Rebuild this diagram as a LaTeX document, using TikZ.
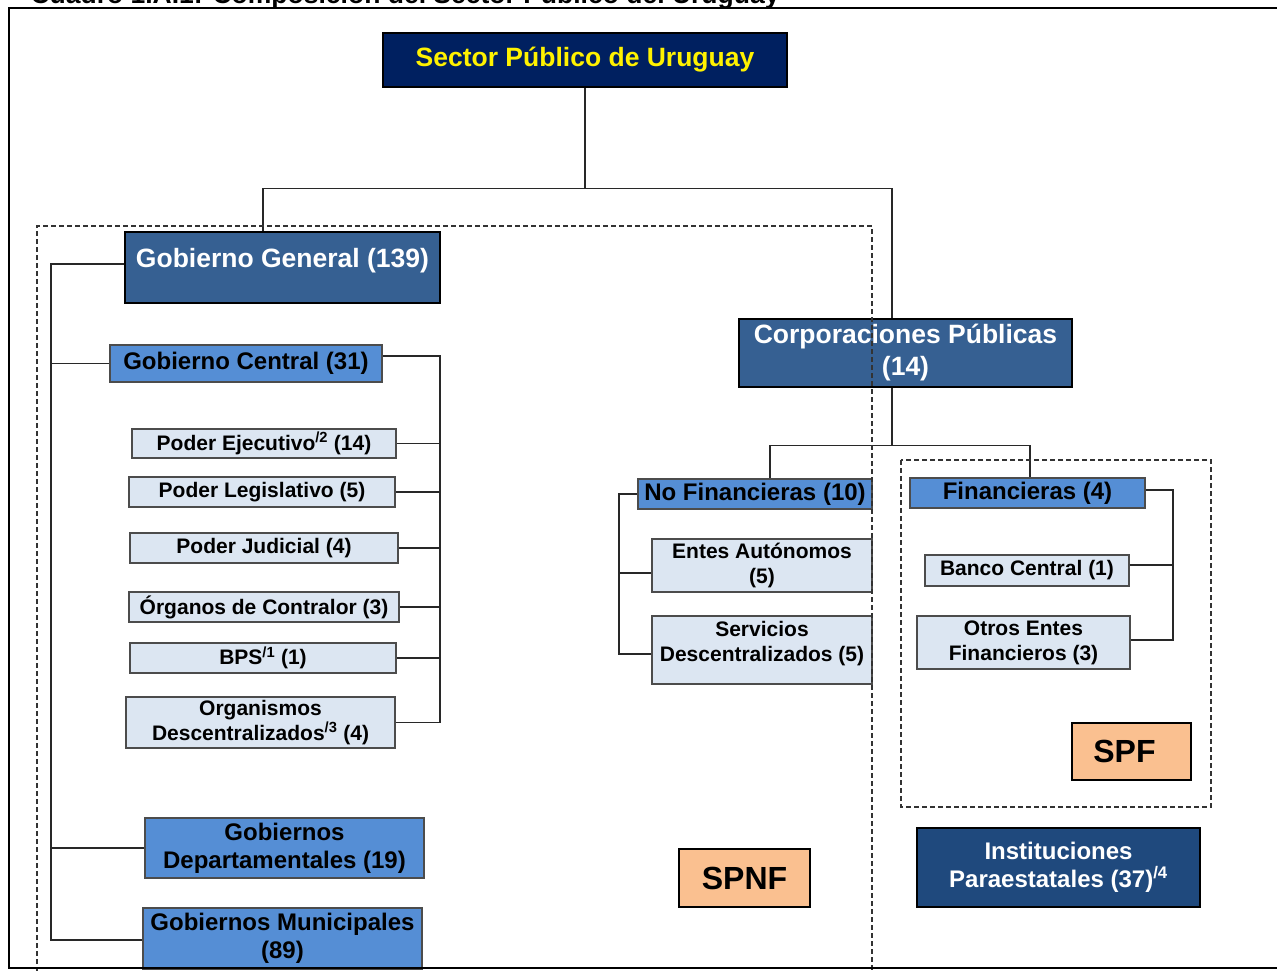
\documentclass[tikz,border=0pt]{standalone}
\usepackage{fontspec}
\setmainfont{Liberation Sans}
\usepackage{xcolor}
\usetikzlibrary{positioning}
\definecolor{navyspu}{RGB}{0,32,96}
\definecolor{steelgg}{RGB}{54,96,146}
\definecolor{bluemid}{RGB}{85,142,213}
\definecolor{bluelite}{RGB}{220,230,242}
\definecolor{peach}{RGB}{250,192,144}
\definecolor{navypara}{RGB}{31,73,125}
\definecolor{linegray}{RGB}{40,40,40}
\newcommand\szbig{\fontsize{26.5}{32}\selectfont\bfseries}
\newcommand\szmid{\fontsize{24}{28}\selectfont\bfseries}
\newcommand\szsml{\fontsize{21}{25}\selectfont\bfseries}
\newcommand\sztag{\fontsize{32}{36}\selectfont\bfseries}
\tikzset{
  box/.style={rectangle,inner sep=0pt,align=center},
  bigbox/.style={box,draw=black,line width=2.5pt},
  thinbox/.style={box,draw=black!70,line width=1.2pt},
  conn/.style={draw=linegray,line width=1.4pt},
  sector/.style={draw=black!80,line width=1.2pt,dash pattern=on 5pt off 3pt}
}
\begin{document}
\begin{tikzpicture}[x=1pt,y=-1pt]
\useasboundingbox (0,0) rectangle (1277,970);
\clip (0,0) rectangle (1277,970);
\node[anchor=base west,font=\szbig] (title) at (27,3) {Cuadro 1.A.1: Composición del Sector Público del Uruguay};
% cabecera
\node[bigbox,fill=navyspu,text=yellow,font=\szbig,minimum width=404,minimum height=54] (spu) at (585,60) {Sector Público de Uruguay};
\node[bigbox,fill=steelgg,text=white,font=\szbig,minimum width=315,minimum height=71,text height=19pt,text depth=19pt] (gg) at (282.5,267.5) {Gobierno General (139)};
\node[bigbox,fill=steelgg,text=white,font=\szbig,minimum width=333,minimum height=68] (cp) at (905.5,353) {Corporaciones Públicas\\(14)};
% gobierno general
\node[thinbox,fill=bluemid,font=\szmid,minimum width=272,minimum height=37] (gc) at (246,363.5) {Gobierno Central (31)};
\node[thinbox,fill=bluelite,font=\szsml,minimum width=264,minimum height=29] (pe) at (264,443.5) {Poder Ejecutivo\textsuperscript{/2} (14)};
\node[thinbox,fill=bluelite,font=\szsml,minimum width=266,minimum height=30] (pl) at (262,492) {Poder Legislativo (5)};
\node[thinbox,fill=bluelite,font=\szsml,minimum width=268,minimum height=30] (pj) at (264,548) {Poder Judicial (4)};
\node[thinbox,fill=bluelite,font=\szsml,minimum width=270,minimum height=30] (oc) at (264,607) {Órganos de Contralor (3)};
\node[thinbox,fill=bluelite,font=\szsml,minimum width=266,minimum height=30] (bps) at (263,658) {BPS\textsuperscript{/1} (1)};
\node[thinbox,fill=bluelite,font=\szsml,minimum width=269,minimum height=51] (od) at (260.5,722.5) {Organismos\\Descentralizados\textsuperscript{/3} (4)};
\node[thinbox,fill=bluemid,font=\szmid,minimum width=279,minimum height=60] (gd) at (284.5,848) {Gobiernos\\Departamentales (19)};
\node[thinbox,fill=bluemid,font=\szmid,minimum width=279,minimum height=61] (gm) at (282.5,938.5) {Gobiernos Municipales\\(89)};
% corporaciones
\node[thinbox,fill=bluemid,font=\szmid,minimum width=234,minimum height=30] (nf) at (755,494) {No Financieras (10)};
\node[thinbox,fill=bluemid,font=\szmid,minimum width=235,minimum height=30] (fin) at (1027.5,493) {Financieras (4)};
\node[thinbox,fill=bluelite,font=\szsml,minimum width=220,minimum height=53] (ea) at (762,565.5) {Entes Autónomos\\(5)};
\node[thinbox,fill=bluelite,font=\szsml,minimum width=220,minimum height=68,text height=42pt,text depth=19pt] (sd) at (762,650) {Servicios\\Descentralizados (5)};
\node[thinbox,fill=bluelite,font=\szsml,minimum width=204,minimum height=31] (bc) at (1027,570.5) {Banco Central (1)};
\node[thinbox,fill=bluelite,font=\szsml,minimum width=213,minimum height=53] (oef) at (1023.5,642.5) {Otros Entes\\Financieros (3)};
\node[bigbox,line width=2pt,fill=peach,font=\sztag,minimum width=119,minimum height=57] (spf) at (1131.5,751.5) {SPF\hspace*{14pt}};
\node[bigbox,line width=2pt,fill=peach,font=\sztag,minimum width=131,minimum height=58] (spnf) at (744.5,878) {SPNF};
\node[bigbox,line width=2pt,fill=navypara,text=white,font=\szmid,minimum width=283,minimum height=79] (ip) at (1058.5,867.5) {Instituciones\\Paraestatales (37)\textsuperscript{/4}};
% conectores
\draw[conn] (spu.south) -- ++(0,100) coordinate (fork);
\draw[conn] ([xshift=-19.5]gg.north) |- (fork) -| ([xshift=-13.5]cp.north);
\coordinate (ggbus) at (51,264);
\draw[conn] (gg.west |- ggbus) -- (ggbus) |- ([yshift=-1.5]gm.west);
\draw[conn] (ggbus |- gc.west) -- (gc.west);
\draw[conn] (ggbus |- gd.west) -- (gd.west);
\coordinate (gcbus) at (440,356);
\draw[conn] (gc.east |- gcbus) -- (gcbus) |- (od.east);
\foreach \n in {pe,pl,pj,oc,bps} \draw[conn] (gcbus |- \n.east) -- (\n.east);
\draw[conn] ([xshift=-13.5]cp.south) -- ++(0,57) coordinate (cpfork);
\draw[conn] ([xshift=15]nf.north) |- (cpfork) -| ([xshift=2.5]fin.north);
\coordinate (nfbus) at (619,494);
\draw[conn] (nf.west) -- (nfbus) |- ([yshift=-4]sd.west);
\draw[conn] (nfbus |- ea.west) ++(0,7.5) -- ([yshift=-7.5]ea.west);
\coordinate (finbus) at (1173,490);
\draw[conn] (fin.east |- finbus) -- (finbus) |- ([yshift=2.5]oef.east);
\draw[conn] ([yshift=5.5]bc.east) -| (finbus);
% sectores
\draw[sector] (37,972) -- (37,226) -- (872,226) -- (872,972);
\draw[sector] (901,460) rectangle (1211,807);
\draw[line width=2.5pt] (1280,8) -- (9,8) -- (9,968) -- (1280,968);
\end{tikzpicture}
\end{document}
